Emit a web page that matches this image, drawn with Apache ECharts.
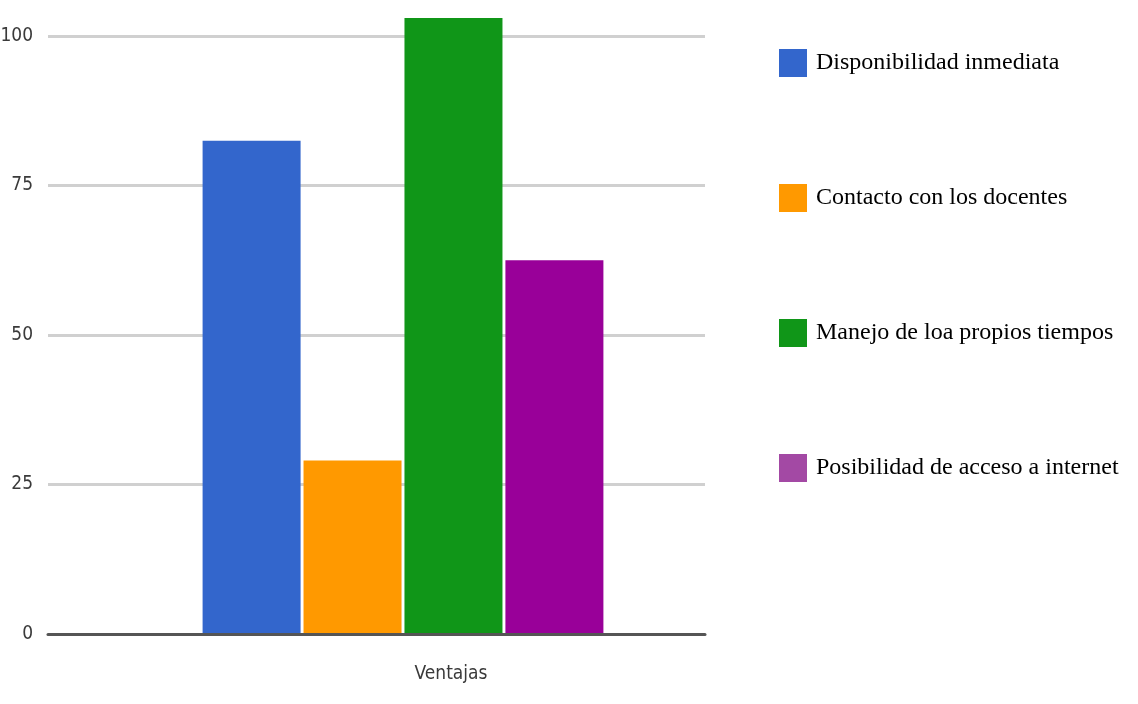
<!DOCTYPE html>
<html>
<head>
<meta charset="utf-8">
<script src="https://cdn.jsdelivr.net/npm/echarts@6/dist/echarts.min.js"></script>
<style>
  html, body { margin: 0; padding: 0; background: #fff; }
  #chart { width: 1138px; height: 704px; }
</style>
</head>
<body>
<div id="chart"></div>
<script>
// Chart data
const categories = ['Ventajas'];
const seriesNames = [
  'Disponibilidad inmediata',
  'Contacto con los docentes',
  'Manejo de loa propios tiempos',
  'Posibilidad de acceso a internet'
];
const seriesValues = [82.5, 29, 103, 62.5];
const yTicks = [0, 25, 50, 75, 100];

const barColors = ['#3366cc', '#ff9900', '#109618', '#990099'];
const legendColors = ['#3366cc', '#ff9900', '#109618', '#a349a4'];

const narrow = "'Liberation Sans Narrow', 'DejaVu Sans Condensed', sans-serif";
const serif = "'Liberation Serif', 'DejaVu Serif', serif";

const chart = echarts.init(document.getElementById('chart'));

const option = {
  backgroundColor: '#fff',
  animation: false,
  grid: [
    // frame: gridlines, value labels and baseline
    { left: 48, right: 433, top: 36, bottom: 70, outerBoundsMode: 'none', containLabel: false },
    // bar group
    { left: 153, right: 485, top: 36, bottom: 70, outerBoundsMode: 'none', containLabel: false }
  ],
  xAxis: [
    {
      gridIndex: 0, type: 'category', data: categories, z: 5,
      axisLine: { show: true, lineStyle: { color: '#555', width: 3 } },
      axisTick: { show: false },
      axisLabel: { show: false }
    },
    {
      gridIndex: 1, type: 'category', data: categories,
      axisLine: { show: false },
      axisTick: { show: false },
      axisLabel: {
        show: true, margin: 31, color: '#3a3a3a',
        fontFamily: narrow, fontSize: 19,
        padding: [0, 0, 0, 96]
      }
    }
  ],
  yAxis: [
    {
      gridIndex: 0, type: 'value',
      min: yTicks[0], max: yTicks[yTicks.length - 1],
      interval: yTicks[1] - yTicks[0],
      axisLine: { show: false },
      axisTick: { show: false },
      axisLabel: { color: '#3a3a3a', fontFamily: narrow, fontSize: 19, margin: 15 },
      splitLine: { show: true, lineStyle: { color: '#d0d0d0', width: 3 } }
    },
    {
      gridIndex: 1, type: 'value',
      min: yTicks[0], max: yTicks[yTicks.length - 1],
      show: false,
      splitLine: { show: false }
    }
  ],
  legend: {
    orient: 'vertical',
    left: 779,
    top: 49,
    padding: 0,
    itemWidth: 28,
    itemHeight: 28,
    itemGap: 107,
    icon: 'rect',
    textStyle: { color: '#000', fontFamily: serif, fontSize: 24, padding: [0, 0, 0, 4] },
    data: seriesNames.map((name, i) => ({ name, itemStyle: { color: legendColors[i] } }))
  },
  series: seriesNames.map((name, i) => ({
    name,
    type: 'bar',
    xAxisIndex: 1,
    yAxisIndex: 1,
    barWidth: 98,
    barGap: '3%',
    clip: false,
    itemStyle: { color: barColors[i] },
    data: [seriesValues[i]]
  }))
};

chart.setOption(option);
</script>
</body>
</html>
